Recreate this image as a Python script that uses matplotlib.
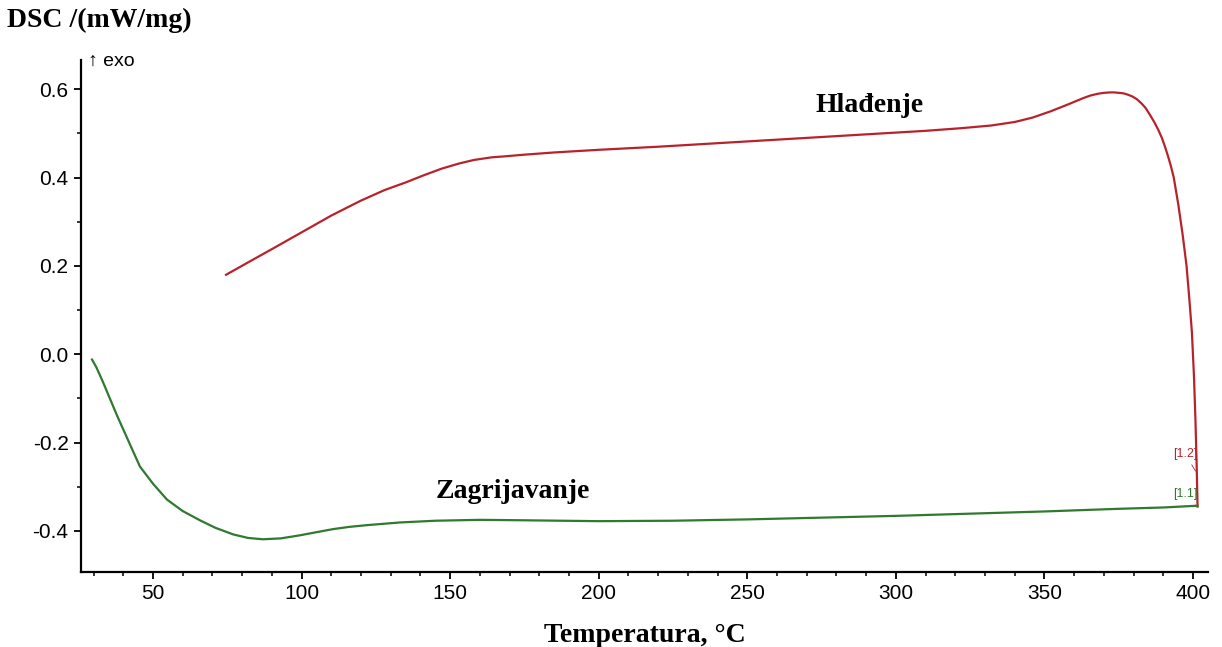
import numpy as np
import matplotlib
matplotlib.use('Agg')
import matplotlib.pyplot as plt
from matplotlib.ticker import MultipleLocator, FormatStrFormatter

plt.rcParams['axes.unicode_minus'] = False
plt.rcParams['font.family'] = ['Liberation Sans', 'DejaVu Sans']

#### cooling curve (Hlađenje) in path order
cool_T = [401.5, 401.2, 400.8, 400.3, 399.6, 398.8, 397.8, 396.5, 395.0, 393.5,
          392.5, 391.5, 390.5, 389.5, 388.3, 387.0, 385.5, 384.0, 382.5, 381.0,
          379.5, 378.0, 376.5, 375.0, 373.5, 372.0, 370.0, 368.0, 365.5, 363.0,
          358.0, 352.0, 346.0, 340.0, 332.0, 322.0, 310.0, 300.0, 280.0, 260.0,
          240.0, 220.0, 200.0, 185.0, 175.0, 168.0, 164.0, 158.0, 153.0, 147.0,
          141.0, 135.0, 128.0, 120.0, 110.0, 100.0, 90.0, 82.0, 74.6]
cool_dsc = [-0.345, -0.25, -0.15, -0.05, 0.05, 0.12, 0.20, 0.27, 0.34, 0.40,
            0.427, 0.45, 0.471, 0.49, 0.508, 0.525, 0.542, 0.558, 0.569, 0.578,
            0.584, 0.588, 0.591, 0.592, 0.593, 0.593, 0.592, 0.590, 0.586, 0.580,
            0.566, 0.550, 0.536, 0.526, 0.518, 0.512, 0.506, 0.502, 0.494, 0.486,
            0.478, 0.470, 0.463, 0.457, 0.452, 0.448, 0.446, 0.440, 0.432, 0.420,
            0.405, 0.389, 0.372, 0.348, 0.314, 0.276, 0.238, 0.208, 0.180]

#### heating curve (Zagrijavanje)
heat_T = [29.5, 31.0, 33.0, 35.5, 38.0, 41.0, 45.6, 50.0, 54.7, 60.0,
          65.8, 71.0, 77.0, 82.0, 87.0, 93.0, 99.5, 105.0, 110.6, 116.0,
          122.0, 133.0, 145.0, 160.0, 175.0, 200.0, 225.0, 250.0, 275.0, 300.0,
          325.0, 350.0, 375.0, 390.0, 401.5]
heat_dsc = [-0.012, -0.03, -0.06, -0.10, -0.14, -0.185, -0.254, -0.293, -0.329, -0.355,
            -0.376, -0.393, -0.408, -0.416, -0.419, -0.417, -0.410, -0.403, -0.396, -0.391,
            -0.387, -0.381, -0.377, -0.375, -0.376, -0.378, -0.377, -0.374, -0.370, -0.366,
            -0.361, -0.356, -0.350, -0.347, -0.343]

red = '#b8232b'
green = '#2f7a2f'

fig = plt.figure(figsize=(12.22, 6.47), dpi=100)
ax = fig.add_axes([0.0663, 0.116, 0.9222, 0.791])

ax.plot(cool_T, cool_dsc, color=red, lw=1.6)
ax.plot(heat_T, heat_dsc, color=green, lw=1.6)

ax.set_xlim(25.8, 405)
ax.set_ylim(-0.493, 0.666)

ax.spines['top'].set_visible(False)
ax.spines['right'].set_visible(False)
ax.spines['left'].set_linewidth(1.6)
ax.spines['bottom'].set_linewidth(1.6)

ax.xaxis.set_major_locator(MultipleLocator(50))
ax.xaxis.set_minor_locator(MultipleLocator(10))
ax.yaxis.set_major_locator(MultipleLocator(0.2))
ax.yaxis.set_minor_locator(MultipleLocator(0.1))
ax.yaxis.set_major_formatter(FormatStrFormatter('%.1f'))
ax.tick_params(which='major', direction='out', length=5, width=1.3, labelsize=15, pad=4)
ax.tick_params(which='minor', direction='out', length=3, width=1.1)

serif = ['Liberation Serif', 'DejaVu Serif']
ax.set_xlabel('Temperatura, °C', family=serif, fontweight='bold', fontsize=20, labelpad=14)
fig.text(0.006, 0.968, 'DSC /(mW/mg)', family=serif, fontweight='bold', fontsize=20,
         ha='left', va='center')
fig.text(0.072, 0.906, '↑ exo', fontsize=14, ha='left', va='center')

ax.text(291, 0.564, 'Hlađenje', family=serif, fontweight='bold', fontsize=20,
        ha='center', va='center')
ax.text(171, -0.311, 'Zagrijavanje', family=serif, fontweight='bold', fontsize=20,
        ha='center', va='center')

ax.annotate('[1.2]', xy=(401.3, -0.27), xytext=(397.3, -0.225), color=red, fontsize=9,
            ha='center', va='center', arrowprops=dict(arrowstyle='-', color=red, lw=0.6))
ax.annotate('[1.1]', xy=(401.0, -0.343), xytext=(397.3, -0.317), color=green, fontsize=9,
            ha='center', va='center', arrowprops=dict(arrowstyle='-', color=green, lw=0.6))

fig.savefig('out.png', dpi=100)
